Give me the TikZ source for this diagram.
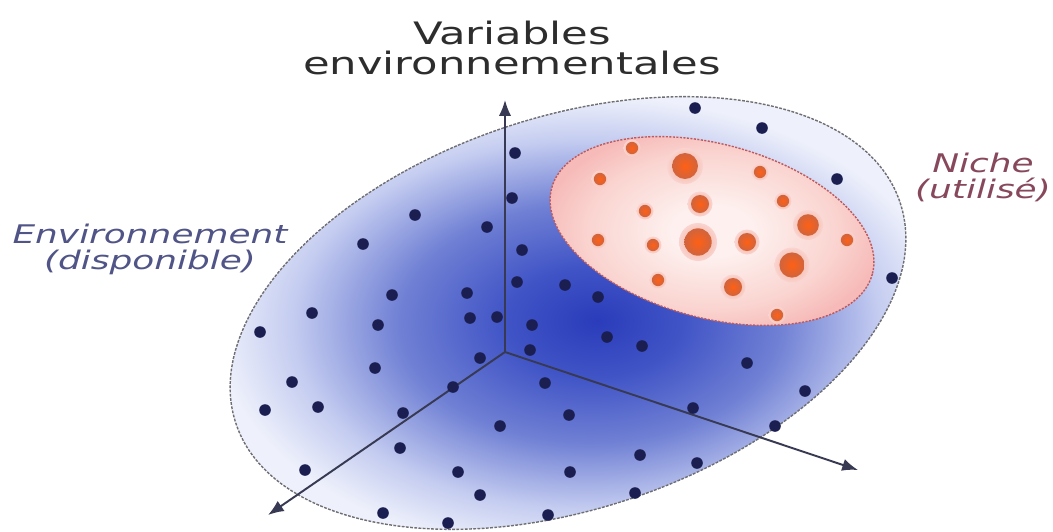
\documentclass[tikz,border=0pt]{standalone}
\usepackage{fontspec}
\setmainfont{DejaVu Sans}
\usepackage{graphicx}
\usetikzlibrary{arrows.meta,positioning,calc}
\definecolor{envdark}{RGB}{42,60,186}
\definecolor{envdeep}{RGB}{64,84,198}
\definecolor{envmid}{RGB}{112,128,212}
\definecolor{envlight}{RGB}{196,204,240}
\definecolor{envedge}{RGB}{238,241,251}
\definecolor{dotnavy}{RGB}{26,30,80}
\definecolor{nichecore}{RGB}{253,240,238}
\definecolor{nichebg}{RGB}{250,212,208}
\definecolor{nicheedge}{RGB}{246,186,184}
\definecolor{nicheline}{RGB}{190,90,95}
\definecolor{orangecore}{RGB}{255,96,20}
\definecolor{orangerim}{RGB}{208,100,62}
\definecolor{orangehalo}{RGB}{240,168,140}
\definecolor{axisgray}{RGB}{55,58,82}
\definecolor{rimgray}{RGB}{110,110,115}
\definecolor{titlegray}{RGB}{45,45,45}
\definecolor{envtext}{RGB}{80,84,135}
\definecolor{nichetext}{RGB}{135,72,92}
\pgfdeclareradialshading{envshade}{\pgfpoint{2bp}{1bp}}{color(0bp)=(envdark); color(6bp)=(envdeep); color(13bp)=(envmid); color(20bp)=(envlight); color(25bp)=(envedge); color(50bp)=(envedge)}
\pgfdeclareradialshading{nicheshade}{\pgfpoint{0bp}{0bp}}{color(0bp)=(nichecore); color(6bp)=(nichecore); color(18bp)=(nichebg); color(25bp)=(nicheedge); color(50bp)=(nicheedge)}
\newcommand{\stretchx}[1]{\scalebox{1.4}[1]{#1}}

\begin{document}
\begin{tikzpicture}[x=0.02cm,y=-0.02cm,
  axis/.style={axisgray,line width=1.1pt,-{Latex[length=9pt,width=7pt]}},
  rim/.style={rimgray,line width=0.8pt,dash pattern=on 1.6pt off 0.8pt},
  nicherim/.style={nicheline,line width=0.8pt,dash pattern=on 1.2pt off 0.8pt},
  titlelabel/.style={titlegray,inner sep=0pt,align=center,font=\fontsize{17.6pt}{17.1pt}\selectfont},
  sidelabel/.style={inner sep=0pt,align=center,font=\fontsize{14.6pt}{14.5pt}\selectfont\itshape}]
\useasboundingbox (0,0) rectangle (1053,531);
\coordinate (envc) at (568,313);
\coordinate (nichec) at (712,231);
\coordinate (origin) at (505,352);
\coordinate (ytip) at (505,100);
\coordinate (xtip) at (858,470);
\coordinate (ztip) at (268,515);
\shade[shading=envshade,rotate around={18.4:(envc)}] (envc) ellipse [x radius=350,y radius=196];
\draw[rim,rotate around={18.4:(envc)}] (envc) ellipse [x radius=350,y radius=196];
\draw[axis] (origin) -- (ytip);
\draw[axis] (origin) -- (xtip);
\draw[axis] (origin) -- (ztip);
\foreach \px/\py in {515/153,512/198,415/215,487/227,363/244,522/250,517/282,565/285,598/297,
  392/295,467/293,312/313,470/318,497/317,532/325,530/350,260/332,378/325,480/358,375/368,292/382,
  453/387,545/383,265/410,318/407,403/413,569/415,500/426,400/448,305/470,458/472,570/472,
  480/495,383/513,448/523,548/515,607/337,642/346,747/363,805/391,693/408,775/426,640/455,
  697/463,635/493,695/108,762/128,837/179,892/278}
  \fill[dotnavy] (\px,\py) circle [radius=5.8];
\shade[shading=nicheshade,rotate around={-15:(nichec)}] (nichec) ellipse [x radius=166,y radius=87];
\draw[nicherim,rotate around={-15:(nichec)}] (nichec) ellipse [x radius=166,y radius=87];
\foreach \px/\py/\pr in {632/148/8.5,685/166/18,600/179/8.5,760/172/8.5,700/204/12.5,645/211/8.5,
  783/201/8.5,808/225/15,598/240/8.5,653/245/8.5,698/242/19,747/242/12.5,847/240/8.5,792/265/17.5,
  658/280/8.5,733/287/12.5,777/315/8.5}{
  \shade[inner color=orangehalo,outer color=nichebg] (\px,\py) circle [radius=\pr];
  \shade[inner color=orangecore,outer color=orangerim] (\px,\py) circle [radius=0.72*\pr];
}
\node[titlelabel,anchor=north] (vars) at (512,21) {\stretchx{Variables}\\\stretchx{environnementales}};
\node[sidelabel,envtext,anchor=north] (envlabel) at (150,224) {\stretchx{Environnement}\\\stretchx{(disponible)}};
\node[sidelabel,nichetext,anchor=north] (nichelabel) at (983,153) {\stretchx{Niche}\\\stretchx{(utilisé)}};
\end{tikzpicture}
\end{document}
